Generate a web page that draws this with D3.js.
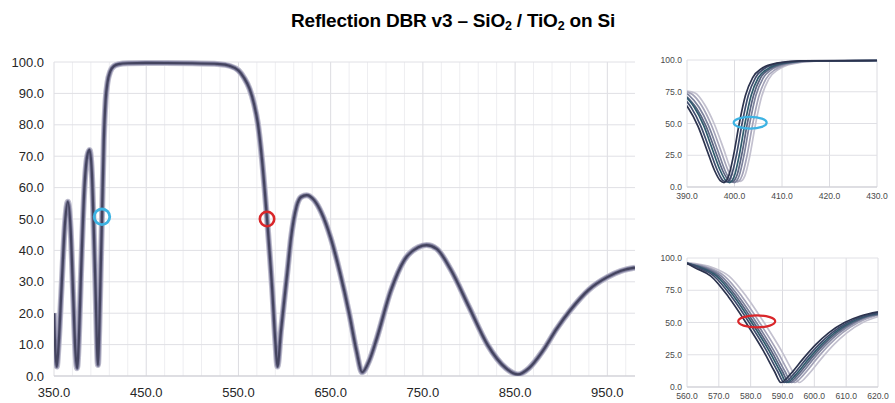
<!DOCTYPE html>
<html>
<head>
<meta charset="utf-8">
<script src="https://d3js.org/d3.v7.min.js"></script>
<style>
  body { margin: 0; background: #fff; }
  text { font-family: "Liberation Sans", Arial, sans-serif; }
</style>
</head>
<body>
<svg width="895" height="403"></svg>
<script>
// ---- main spectrum (nm, % reflection)
const mainWavelength = [350, 351.5, 353, 355, 358, 362, 365, 368, 371, 373,
  375, 377, 379, 383, 386, 388.5, 391, 393, 395, 397.7,
  399, 400.5, 402, 404, 406, 408, 411, 415, 420, 430,
  450, 500, 530, 540, 550, 556, 562, 567, 571, 575.5, 581,
  586.5, 590, 592.3, 596, 600, 603, 607, 613, 618, 624,
  632, 640, 650, 660, 670, 678, 684, 692, 700, 715,
  730, 745, 754, 765, 780, 800, 820, 840, 853, 865,
  880, 895, 910, 930, 950, 965, 980];
const mainReflect = [20, 8, 3, 10, 27, 49, 55.5, 47, 24, 9,
  2.5, 12, 30, 60, 70, 72, 65, 48, 28, 3.5,
  14, 32, 50, 75, 88, 93.5, 97, 98.7, 99.3, 99.6,
  99.7, 99.6, 99.3, 98.8, 97.3, 95, 91.5, 86.5, 80.5, 69, 50,
  28, 11, 3, 14, 25, 33, 44, 54, 57, 57.6,
  56, 52, 44, 33, 20, 8, 1.2, 5, 12, 27,
  37, 41, 41.7, 40.5, 34, 22, 10, 2.5, 0.5, 2.5,
  8, 15, 21, 27.5, 31.5, 33.5, 34.5];

const mainXTicks = [350, 450, 550, 650, 750, 850, 950];
const mainXMinor = [370, 390, 410, 430, 470, 490, 510, 530, 570, 590, 610, 630,
  670, 690, 710, 730, 770, 790, 810, 830, 870, 890, 910, 930, 970];
const mainYTicks = [0, 10, 20, 30, 40, 50, 60, 70, 80, 90, 100];

// ---- zoom near 400 nm, one run per wafer position
const blueZoomRuns = [
  [[388.3, 71], [390.3, 62], [392.3, 48], [394.3, 28], [395.8, 13], [397, 5], [397.8, 3.5], [398.8, 9], [399.8, 25], [401, 50], [402.3, 72], [403.8, 86], [405.8, 93.5], [408.8, 97.5], [413.8, 99.3], [430, 99.6]],
  [[388.9, 71.5], [390.9, 62.5], [392.9, 48], [394.9, 28], [396.4, 13], [397.6, 5], [398.4, 4], [399.4, 9.5], [400.4, 25], [401.6, 50], [402.9, 72], [404.4, 86], [406.4, 93.5], [409.4, 97.5], [414.4, 99.3], [430, 99.6]],
  [[389.5, 72], [391.5, 63], [393.5, 48.5], [395.5, 28], [397, 13], [398.2, 5], [399, 3.5], [400, 9], [401, 25], [402.2, 50], [403.5, 72], [405, 86], [407, 93], [410, 97.3], [415, 99.2], [430, 99.6]],
  [[390, 71], [392, 62], [394, 48], [396, 28], [397.5, 13], [398.7, 5.5], [399.5, 4], [400.5, 9], [401.5, 25], [402.7, 50], [404, 72], [405.5, 86], [407.5, 93], [410.5, 97.3], [415.5, 99.2], [430, 99.6]],
  [[390, 73.5], [390.5, 72], [392.5, 63], [394.5, 48.5], [396.5, 28.5], [398, 13], [399.2, 5], [400, 3.5], [401, 9], [402, 25], [403.2, 50], [404.5, 72], [406, 85.5], [408, 93], [411, 97.2], [416, 99.2], [430, 99.6]],
  [[390, 75], [391.1, 73], [393.1, 64], [395.1, 49], [397.1, 29], [398.6, 13.5], [399.8, 5], [400.6, 4], [401.6, 9], [402.6, 24], [403.8, 49], [405.1, 71], [406.6, 85], [408.6, 92.5], [411.6, 97], [416.6, 99.1], [430, 99.6]],
  [[390, 75.5], [391.7, 74], [393.7, 65], [395.7, 50], [397.7, 30], [399.2, 14], [400.4, 5.5], [401.2, 4.5], [402.2, 9], [403.2, 24], [404.4, 49], [405.7, 71], [407.2, 85], [409.2, 92.5], [412.2, 97], [417.2, 99.1], [430, 99.6]]
];

// ---- zoom near 580 nm
const redZoomRuns = [
  [[560, 96], [562.5, 92.5], [567.5, 86], [573, 70], [578.5, 50], [584, 28], [587.5, 12], [589.5, 3.5], [592.5, 10], [596.5, 22], [600.5, 33], [604.5, 42], [609.5, 50], [614.5, 55], [620, 58.2]],
  [[560, 96], [563.5, 92.5], [568.5, 86], [574, 70], [579.5, 50], [585, 28], [588.5, 12], [590.5, 3.5], [593.5, 10], [597.5, 22], [601.5, 33], [605.5, 42], [610.5, 50], [615.5, 55], [620, 57.5]],
  [[560, 96], [564.3, 92.5], [569.3, 86], [574.8, 70], [580.3, 50], [585.8, 28], [589.3, 12], [591.3, 3.5], [594.3, 10], [598.3, 22], [602.3, 33], [606.3, 42], [611.3, 50], [616.3, 55], [620, 57]],
  [[560, 95.5], [565, 92.5], [570, 86], [575.5, 70], [581, 50], [586.5, 28], [590, 12], [592, 3.5], [595, 10], [599, 22], [603, 33], [607, 42], [612, 50], [617, 55], [620, 56.5]],
  [[560, 95.5], [565.8, 92.5], [570.8, 86], [576.3, 70], [581.8, 50], [587.3, 28], [590.8, 12], [592.8, 3.5], [595.8, 10], [599.8, 22], [603.8, 33], [607.8, 42], [612.8, 50], [617.8, 55], [620, 56]],
  [[560, 96], [566.8, 92.5], [571.8, 86], [577.3, 70], [582.8, 50], [588.3, 28], [591.8, 12], [593.8, 3.5], [596.8, 10], [600.8, 22], [604.8, 33], [608.8, 42], [613.8, 50], [618.8, 55], [620, 55.5]],
  [[560, 96.5], [568.2, 92.5], [573.2, 86], [578.7, 70], [584.2, 50], [589.7, 28], [593.2, 12], [595.2, 3.5], [598.2, 10], [602.2, 22], [606.2, 33], [610.2, 42], [615.2, 50], [620, 54.5]]
];

const blueZoomXTicks = [390, 400, 410, 420, 430];
const redZoomXTicks = [560, 570, 580, 590, 600, 610, 620];
const zoomYTicks = [0, 25, 50, 75, 100];

// markers: [wavelength, reflection]
const blueMark = [402, 50.7];
const redMark = [581, 50];
const blueZoomMark = [403.3, 50.6];
const redZoomMark = [581.9, 50.9];

const runColors = ['#2c334e', '#3e4b6c', '#2f5a6c', '#58627f', '#7d829c', '#a4a3b8', '#c3c1cf'];
const fmt = d3.format('.1f');
const svg = d3.select('svg');

svg.append('text')
  .attr('x', 453).attr('y', 27)
  .attr('text-anchor', 'middle')
  .style('font-size', '19px').style('font-weight', 'bold')
  .style('letter-spacing', '-0.2px')
  .call(t => {
    t.append('tspan').text('Reflection DBR v3 \u2013 SiO');
    t.append('tspan').attr('dy', 3).style('font-size', '12.5px').text('2');
    t.append('tspan').attr('dy', -3).text(' / TiO');
    t.append('tspan').attr('dy', 3).style('font-size', '12.5px').text('2');
    t.append('tspan').attr('dy', -3).text(' on Si');
  });

function panel(o) {
  const x = d3.scaleLinear().domain(o.xDomain).range(o.xRange);
  const y = d3.scaleLinear().domain([0, 100]).range(o.yRange);
  const g = svg.append('g');

  g.selectAll('.vmin').data(o.xMinor || []).join('line')
    .attr('x1', d => x(d)).attr('x2', d => x(d))
    .attr('y1', y(0)).attr('y2', y(100))
    .attr('stroke', '#eeeef1').attr('stroke-width', 1);
  g.selectAll('.vmaj').data(o.xTicks).join('line')
    .attr('x1', d => x(d)).attr('x2', d => x(d))
    .attr('y1', y(0)).attr('y2', y(100))
    .attr('stroke', '#dcdce1').attr('stroke-width', 1);
  g.selectAll('.hg').data(o.yTicks).join('line')
    .attr('x1', o.xRange[0]).attr('x2', o.xRange[1])
    .attr('y1', d => y(d)).attr('y2', d => y(d))
    .attr('stroke', '#e0e0e5').attr('stroke-width', 1);
  g.append('line')
    .attr('x1', o.xRange[0]).attr('x2', o.xRange[1])
    .attr('y1', y(0)).attr('y2', y(0))
    .attr('stroke', '#cdcdd3');

  g.selectAll('.yl').data(o.yTicks).join('text')
    .attr('x', o.xRange[0] - o.labelGap).attr('y', d => y(d))
    .attr('dy', '0.35em').attr('text-anchor', 'end')
    .style('font-size', o.fontSize).attr('fill', o.labelColor)
    .text(fmt);
  g.selectAll('.xl').data(o.xTicks).join('text')
    .attr('x', d => x(d)).attr('y', o.xLabelY)
    .attr('text-anchor', 'middle')
    .style('font-size', o.fontSize).attr('fill', o.labelColor)
    .text(fmt);

  svg.append('clipPath').attr('id', o.id)
    .append('rect')
    .attr('x', o.xRange[0]).attr('y', o.yRange[1] - 4)
    .attr('width', o.xRange[1] - o.xRange[0])
    .attr('height', o.yRange[0] - o.yRange[1] + 4);
  const plot = svg.append('g').attr('clip-path', `url(#${o.id})`);
  const line = d3.line().x(d => x(d[0])).y(d => y(d[1])).curve(d3.curveMonotoneX);
  return { x, y, plot, line };
}

// main chart
const main = panel({
  id: 'clipMain', xDomain: [350, 980], xRange: [54, 635], yRange: [376, 62],
  xTicks: mainXTicks, xMinor: mainXMinor, yTicks: mainYTicks,
  labelGap: 10, xLabelY: 397, fontSize: '13px', labelColor: '#262626'
});
const mainData = d3.zip(mainWavelength, mainReflect);
[['#bdbccd', 6], ['#807f9e', 4], ['#44445f', 2.2]].forEach(([c, w]) => {
  main.plot.append('path').datum(mainData)
    .attr('d', main.line)
    .attr('fill', 'none').attr('stroke', c).attr('stroke-width', w)
    .attr('stroke-linejoin', 'round');
});

// zoom 400 nm
const z1 = panel({
  id: 'clipZ1', xDomain: [390, 430], xRange: [687, 877], yRange: [187, 60],
  xTicks: blueZoomXTicks, yTicks: zoomYTicks,
  labelGap: 5, xLabelY: 199, fontSize: '8.6px', labelColor: '#4a4a4a'
});
// zoom 580 nm
const z2 = panel({
  id: 'clipZ2', xDomain: [560, 620], xRange: [687, 878], yRange: [387, 258],
  xTicks: redZoomXTicks, yTicks: zoomYTicks,
  labelGap: 5, xLabelY: 399, fontSize: '8.6px', labelColor: '#4a4a4a'
});

[[z1, blueZoomRuns], [z2, redZoomRuns]].forEach(([p, runs]) => {
  p.plot.selectAll('path.run').data(runs.slice().reverse()).join('path')
    .attr('class', 'run')
    .attr('d', p.line)
    .attr('fill', 'none')
    .attr('stroke', (d, i) => runColors[runColors.length - 1 - i])
    .attr('stroke-width', 1.7);
});

// highlight marks
svg.append('circle')
  .attr('cx', main.x(blueMark[0])).attr('cy', main.y(blueMark[1])).attr('r', 7.8)
  .attr('fill', 'none').attr('stroke', '#3db3e3').attr('stroke-width', 2.8);
svg.append('circle')
  .attr('cx', main.x(redMark[0])).attr('cy', main.y(redMark[1])).attr('r', 7.2)
  .attr('fill', 'none').attr('stroke', '#d9262a').attr('stroke-width', 2.6);
svg.append('ellipse')
  .attr('cx', z1.x(blueZoomMark[0])).attr('cy', z1.y(blueZoomMark[1]))
  .attr('rx', 16.5).attr('ry', 5.8)
  .attr('fill', 'none').attr('stroke', '#3db3e3').attr('stroke-width', 2.2);
svg.append('ellipse')
  .attr('cx', z2.x(redZoomMark[0])).attr('cy', z2.y(redZoomMark[1]))
  .attr('rx', 18.5).attr('ry', 6)
  .attr('fill', 'none').attr('stroke', '#d9262a').attr('stroke-width', 2.2);
</script>
</body>
</html>
